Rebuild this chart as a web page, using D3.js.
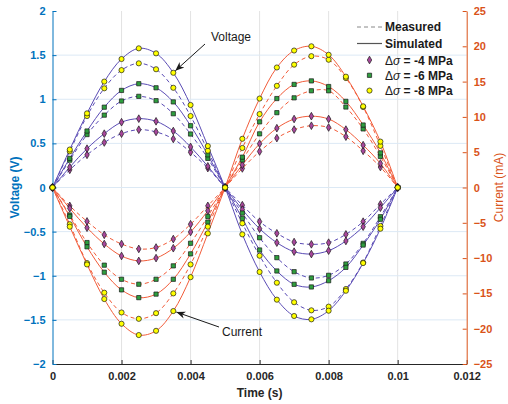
<!DOCTYPE html>
<html>
<head>
<meta charset="utf-8">
<script src="https://cdn.jsdelivr.net/npm/d3@7"></script>
<style>
  body { margin: 0; background: white; }
  text { font-family: "Liberation Sans", Arial, sans-serif; }
</style>
</head>
<body>
<div id="viz-container"></div>
<script>
let w = 508;
let h = 404;

// time samples (s)
let time = [0, 0.0005, 0.001, 0.0015, 0.002, 0.0025, 0.003, 0.0035, 0.004, 0.0045, 0.005,
            0.0055, 0.006, 0.0065, 0.007, 0.0075, 0.008, 0.0085, 0.009, 0.0095, 0.01];

// voltage (V)
let voltMeas4 = [0, 0.20, 0.37, 0.51, 0.61, 0.655, 0.63, 0.55, 0.40, 0.22, 0, -0.20, -0.387, -0.519, -0.618, -0.644, -0.625, -0.531, -0.387, -0.19, 0];
let voltSim4  = [0, 0.23, 0.44, 0.61, 0.74, 0.78, 0.75, 0.64, 0.46, 0.24, 0, -0.25, -0.467, -0.625, -0.727, -0.754, -0.716, -0.606, -0.444, -0.229, 0];
let voltMeas6 = [0, 0.31, 0.60, 0.82, 0.98, 1.033, 0.984, 0.836, 0.606, 0.33, 0, -0.29, -0.569, -0.795, -0.954, -1.025, -0.995, -0.867, -0.633, -0.331, 0];
let voltSim6  = [0, 0.33, 0.64, 0.91, 1.10, 1.176, 1.13, 0.97, 0.70, 0.37, 0, -0.35, -0.708, -0.946, -1.097, -1.127, -1.056, -0.905, -0.652, -0.36, 0];
let voltMeas8 = [0, 0.41, 0.81, 1.124, 1.33, 1.407, 1.34, 1.13, 0.81, 0.417, 0, -0.406, -0.773, -1.079, -1.30, -1.392, -1.35, -1.15, -0.85, -0.436, 0];
let voltSim8  = [0, 0.43, 0.84, 1.20, 1.456, 1.577, 1.52, 1.30, 0.935, 0.47, 0, -0.531, -0.957, -1.271, -1.456, -1.494, -1.396, -1.17, -0.856, -0.467, 0];

// current (mA)
let curMeas4 = [0, -2.6, -4.8, -6.7, -8.0, -8.7, -8.5, -7.3, -5.2, -2.6, 0, 2.7, 5.1, 7.0, 8.2, 8.75, 8.5, 7.2, 5.2, 2.9, 0];
let curSim4  = [0, -2.95, -5.7, -8.0, -9.7, -10.4, -10.0, -8.6, -6.3, -3.3, 0, 3.2, 6.2, 8.4, 9.7, 10.1, 9.7, 8.2, 6.0, 3.4, 0];
let curMeas6 = [0, -3.9, -7.8, -11.0, -13.0, -13.7, -13.0, -11.1, -7.9, -4.1, 0, 3.9, 7.6, 10.6, 12.7, 13.7, 13.7, 11.4, 8.3, 4.4, 0];
let curSim6  = [0, -4.1, -8.4, -12.0, -14.5, -15.6, -15.1, -13.0, -9.4, -4.9, 0, 4.3, 9.3, 12.6, 14.6, 15.1, 14.3, 12.2, 8.85, 4.9, 0];
let curMeas8 = [0, -5.2, -10.7, -14.9, -17.7, -18.6, -17.8, -15.0, -10.9, -5.55, 0, 5.6, 10.4, 14.4, 17.4, 18.6, 18.1, 15.5, 11.4, 5.9, 0];
let curSim8  = [0, -5.55, -10.9, -15.8, -19.3, -20.9, -20.3, -17.5, -12.7, -6.5, 0, 6.9, 12.6, 17.0, 19.4, 20.0, 18.8, 15.7, 11.5, 6.5, 0];

// ticks
let xTicks = [0, 0.002, 0.004, 0.006, 0.008, 0.01, 0.012];
let xTickLabels = ["0", "0.002", "0.004", "0.006", "0.008", "0.01", "0.012"];
let vTicks = [-2, -1.5, -1, -0.5, 0, 0.5, 1, 1.5, 2];
let iTicks = [-25, -20, -15, -10, -5, 0, 5, 10, 15, 20, 25];

let stressLabels = ["-4", "-6", "-8"];
let markerTypes = ["diamond", "square", "circle"];

let plotLeft = 52.5, plotRight = 466.7, plotTop = 11, plotBottom = 364;

let viz = d3.select("#viz-container")
  .append("svg")
    .attr("width", w)
    .attr("height", h)
    .style("background-color", "white");

let x = d3.scaleLinear().domain([0, 0.012]).range([plotLeft, plotRight]);
let yV = d3.scaleLinear().domain([-2, 2]).range([plotBottom, plotTop]);
let yI = d3.scaleLinear().domain([-25, 25]).range([plotBottom, plotTop]);

let blue = "#0072bd";
let orange = "#d95319";
let voltColor = "#5a4bb5";
let curColor = "#f25c3a";
let markerFill = { diamond: "#a8479c", square: "#2e9e3e", circle: "#ffff00" };

// grid
viz.append("g").selectAll("line").data(xTicks.slice(1, -1)).enter()
  .append("line")
    .attr("x1", d => x(d)).attr("x2", d => x(d))
    .attr("y1", plotTop).attr("y2", plotBottom)
    .attr("stroke", "#e3e3e3").attr("stroke-width", 1);
viz.append("g").selectAll("line").data(vTicks.slice(1, -1)).enter()
  .append("line")
    .attr("x1", plotLeft).attr("x2", plotRight)
    .attr("y1", d => yV(d)).attr("y2", d => yV(d))
    .attr("stroke", "#dce9f5").attr("stroke-width", 1);

// axes
let xAxis = d3.axisBottom(x).tickValues(xTicks).tickSizeInner(-4).tickSizeOuter(0)
  .tickPadding(8).tickFormat((d, i) => xTickLabels[i]);
let gx = viz.append("g").attr("transform", "translate(0," + plotBottom + ")").call(xAxis);
gx.select(".domain").attr("stroke", "#262626");
gx.selectAll(".tick line").attr("stroke", "#262626");
gx.selectAll("text").attr("fill", "#262626").style("font-size", "11px").style("font-weight", "bold")
  .style("font-family", "Liberation Sans, Arial, sans-serif");

let yAxisL = d3.axisLeft(yV).tickValues(vTicks).tickSizeInner(-4).tickSizeOuter(0)
  .tickPadding(7).tickFormat(d3.format(""));
let gyl = viz.append("g").attr("transform", "translate(" + plotLeft + ",0)").call(yAxisL);
gyl.select(".domain").attr("stroke", blue);
gyl.selectAll(".tick line").attr("stroke", blue);
gyl.selectAll("text").attr("fill", blue).style("font-size", "11px").style("font-weight", "bold")
  .style("font-family", "Liberation Sans, Arial, sans-serif");

let yAxisR = d3.axisRight(yI).tickValues(iTicks).tickSizeInner(-4).tickSizeOuter(0)
  .tickPadding(7).tickFormat(d3.format(""));
let gyr = viz.append("g").attr("transform", "translate(" + plotRight + ",0)").call(yAxisR);
gyr.select(".domain").attr("stroke", orange);
gyr.selectAll(".tick line").attr("stroke", orange);
gyr.selectAll("text").attr("fill", orange).style("font-size", "11px").style("font-weight", "bold")
  .style("font-family", "Liberation Sans, Arial, sans-serif");

// axis titles
viz.append("text")
  .attr("x", (plotLeft + plotRight) / 2).attr("y", 397)
  .attr("text-anchor", "middle").attr("fill", "#262626")
  .style("font-size", "12px").style("font-weight", "bold")
  .text("Time (s)");
viz.append("text")
  .attr("transform", "translate(19," + yV(0) + ") rotate(-90)")
  .attr("text-anchor", "middle").attr("fill", blue)
  .style("font-size", "12px").style("font-weight", "bold")
  .text("Voltage (V)");
viz.append("text")
  .attr("transform", "translate(503," + yV(0) + ") rotate(-90)")
  .attr("text-anchor", "middle").attr("fill", orange)
  .style("font-size", "12px")
  .text("Current (mA)");

// series
let series = [
  { vals: voltMeas4, scale: yV, color: voltColor, dash: true,  marker: "diamond" },
  { vals: voltSim4,  scale: yV, color: voltColor, dash: false, marker: "diamond" },
  { vals: voltMeas6, scale: yV, color: voltColor, dash: true,  marker: "square" },
  { vals: voltSim6,  scale: yV, color: voltColor, dash: false, marker: "square" },
  { vals: voltMeas8, scale: yV, color: voltColor, dash: true,  marker: "circle" },
  { vals: voltSim8,  scale: yV, color: voltColor, dash: false, marker: "circle" },
  { vals: curMeas4,  scale: yI, color: curColor,  dash: true,  marker: "diamond" },
  { vals: curSim4,   scale: yI, color: curColor,  dash: false, marker: "diamond" },
  { vals: curMeas6,  scale: yI, color: curColor,  dash: true,  marker: "square" },
  { vals: curSim6,   scale: yI, color: curColor,  dash: false, marker: "square" },
  { vals: curMeas8,  scale: yI, color: curColor,  dash: true,  marker: "circle" },
  { vals: curSim8,   scale: yI, color: curColor,  dash: false, marker: "circle" }
];

let symbolFor = {
  diamond: d3.symbol().type(d3.symbolDiamond).size(17),
  square: d3.symbol().type(d3.symbolSquare).size(18),
  circle: d3.symbol().type(d3.symbolCircle).size(21)
};

series.forEach(function(s) {
  let line = d3.line()
    .x((d, i) => x(time[i]))
    .y(d => s.scale(d))
    .curve(d3.curveCatmullRom.alpha(0.5));
  viz.append("path")
    .attr("d", line(s.vals))
    .attr("fill", "none")
    .attr("stroke", s.color)
    .attr("stroke-width", 1)
    .attr("stroke-dasharray", s.dash ? "4,3" : null);
});

series.forEach(function(s) {
  viz.append("g").selectAll("path").data(s.vals).enter()
    .append("path")
      .attr("d", symbolFor[s.marker])
      .attr("transform", (d, i) => "translate(" + x(time[i]) + "," + s.scale(d) + ")")
      .attr("fill", markerFill[s.marker])
      .attr("stroke", "#1a1a1a")
      .attr("stroke-width", 0.7);
});

// annotations
viz.append("defs").append("marker")
  .attr("id", "arrow").attr("viewBox", "0 0 10 10")
  .attr("refX", 10).attr("refY", 5)
  .attr("markerWidth", 9).attr("markerHeight", 9)
  .attr("markerUnits", "userSpaceOnUse")
  .attr("orient", "auto")
  .append("path").attr("d", "M0,1 L10,5 L0,9 L3,5 Z").attr("fill", "#1a1a1a");

viz.append("line")
  .attr("x1", 205).attr("y1", 44).attr("x2", x(0.0035) + 2).attr("y2", yV(voltSim8[7]) - 2)
  .attr("stroke", "#1a1a1a").attr("stroke-width", 1).attr("marker-end", "url(#arrow)");
viz.append("text").attr("x", 211).attr("y", 41)
  .attr("fill", "#1a1a1a").style("font-size", "12px").text("Voltage");

viz.append("line")
  .attr("x1", 219).attr("y1", 327).attr("x2", x(0.0035) + 3).attr("y2", yI(curSim8[7]) + 1)
  .attr("stroke", "#1a1a1a").attr("stroke-width", 1).attr("marker-end", "url(#arrow)");
viz.append("text").attr("x", 222).attr("y", 336)
  .attr("fill", "#1a1a1a").style("font-size", "12px").text("Current");

// legend
let lg = viz.append("g");
lg.append("line").attr("x1", 357).attr("x2", 382).attr("y1", 27).attr("y2", 27)
  .attr("stroke", "#888").attr("stroke-width", 1).attr("stroke-dasharray", "4,3");
lg.append("text").attr("x", 385).attr("y", 31).style("font-size", "12px").style("font-weight", "bold")
  .attr("fill", "#1a1a1a").text("Measured");
lg.append("line").attr("x1", 357).attr("x2", 382).attr("y1", 43.5).attr("y2", 43.5)
  .attr("stroke", "#555").attr("stroke-width", 1.2);
lg.append("text").attr("x", 385).attr("y", 47.5).style("font-size", "12px").style("font-weight", "bold")
  .attr("fill", "#1a1a1a").text("Simulated");

let legendRows = lg.selectAll(".row").data(stressLabels).enter()
  .append("g").attr("class", "row")
  .attr("transform", (d, i) => "translate(0," + (60 + i * 15.3) + ")");
legendRows.append("path")
  .attr("d", (d, i) => symbolFor[markerTypes[i]]())
  .attr("transform", "translate(369.5,0)")
  .attr("fill", (d, i) => markerFill[markerTypes[i]])
  .attr("stroke", "#1a1a1a").attr("stroke-width", 0.7);
let lt = legendRows.append("text").attr("x", 385).attr("y", 4.5)
  .style("font-size", "12px").style("font-weight", "bold").attr("fill", "#1a1a1a");
lt.append("tspan").style("font-weight", "normal").text("\u0394");
lt.append("tspan").style("font-weight", "normal").style("font-style", "italic").text("\u03c3");
lt.append("tspan").text(d => " = " + d + " MPa");
</script>
</body>
</html>
